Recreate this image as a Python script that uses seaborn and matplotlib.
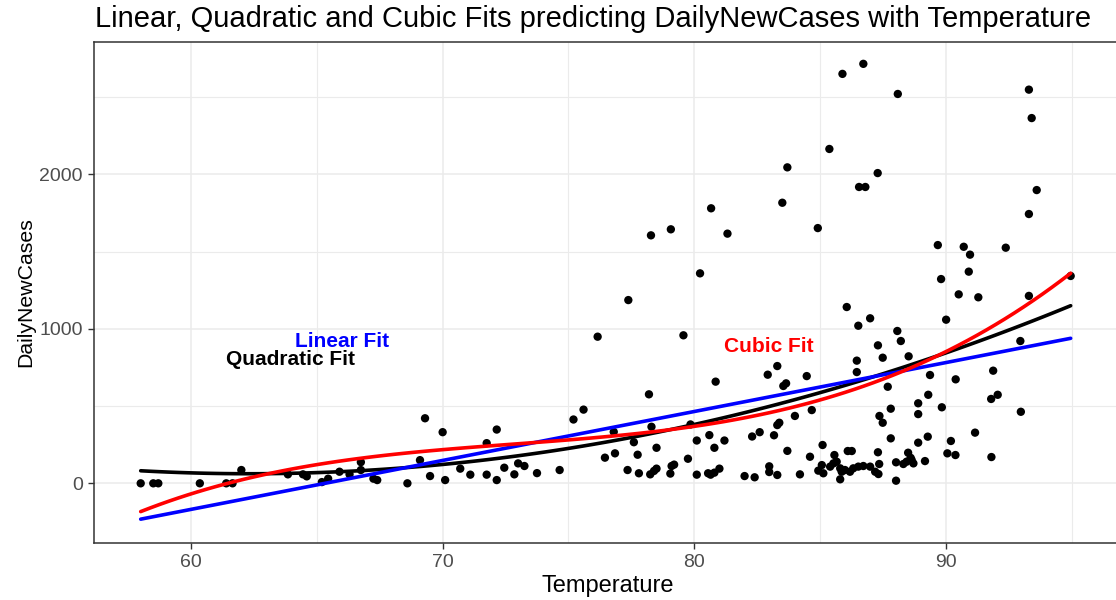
import numpy as np
import pandas as pd
import matplotlib
matplotlib.use("Agg")
import matplotlib.pyplot as plt
import seaborn as sns

# Daily temperature (°F) and new case counts
temperature = [
    58.0, 58.5, 58.7, 60.35, 61.4, 61.65, 62.0, 63.85, 64.45, 64.6,
    65.2, 65.45, 65.9, 66.3, 66.75, 66.75, 67.25, 67.4, 68.6, 69.1,
    69.3, 69.5, 70.0, 70.1, 70.7, 71.1, 71.75, 71.75,
    72.15, 72.15, 72.45, 72.85, 73.0, 73.25, 73.75, 74.65, 75.2, 75.6,
    76.45, 76.85, 76.8, 77.35, 77.6, 77.75, 77.8, 78.2, 78.3, 78.25,
    78.4, 78.5, 78.5, 79.05, 79.1, 79.2, 79.75, 79.85, 80.1, 80.1,
    80.6, 80.55, 80.65, 80.8, 81.0, 80.8, 81.2, 80.85, 82.0, 82.4,
    82.3, 82.6, 82.98, 82.98, 83.3,
    83.65, 83.54, 83.38, 83.3, 83.17, 84.0, 84.67, 83.7, 84.6, 84.2,
    85.1, 85.07, 84.93, 85.13, 85.4, 85.53, 85.66, 85.8, 85.86, 85.8,
    85.99, 86.19, 86.32, 86.52, 86.72, 86.99, 87.19, 87.32, 85.57, 86.1,
    86.26, 87.3, 87.35,
    85.89, 85.37, 83.7, 80.67, 83.5, 78.28, 79.07, 81.32, 84.91, 80.23,
    77.38, 76.16, 79.57, 86.06, 86.52, 86.46, 86.46, 82.92, 83.3, 84.47,
    86.72, 88.09, 93.3, 93.41, 87.29, 86.55, 86.8, 93.61, 93.3, 89.68,
    90.71, 90.96, 92.38, 90.91, 89.81, 90.51, 91.29, 94.96, 93.3, 90.01,
    86.99, 88.07, 88.21, 87.3, 87.49, 88.52, 87.69, 89.37, 90.39, 91.88,
    92.96, 88.9, 88.9, 89.84, 87.81, 87.36, 87.49, 87.81, 88.9, 89.28,
    90.2, 91.16, 90.06, 90.38, 89.17, 88.02, 88.02, 88.31, 88.44, 88.5,
    88.64, 88.71, 88.6, 91.8, 92.06, 92.98, 91.81, 89.3,
]
daily_new_cases = [
    0, 0, 0, 0, 0, 0, 86, 58, 58, 45,
    8, 30, 75, 58, 137, 86, 30, 21, 0, 150,
    421, 47, 331, 21, 95, 56, 56, 260,
    348, 21, 101, 58, 129, 112, 66, 86, 413, 477,
    166, 194, 333, 86, 266, 185, 65, 576, 366, 58,
    80, 95, 230, 63, 112, 121, 159, 381, 277, 56,
    312, 65, 56, 69, 95, 230, 277, 658, 47, 39,
    303, 331, 110, 73, 54,
    647, 630, 392, 377, 311, 436, 474, 210, 172, 58,
    248, 118, 82, 65, 108, 129, 140, 97, 75, 26,
    86, 75, 97, 108, 112, 108, 75, 60, 183, 209,
    209, 201, 125,
    2650, 2164, 2045, 1780, 1816, 1605, 1644, 1616, 1652, 1359,
    1186, 949, 958, 1141, 1020, 794, 720, 703, 759, 694,
    2715, 2520, 2548, 2364, 2008, 1918, 1918, 1898, 1743, 1542,
    1531, 1480, 1525, 1370, 1322, 1223, 1204, 1342, 1213, 1059,
    1068, 986, 921, 893, 813, 822, 625, 701, 673, 729,
    921, 518, 448, 492, 483, 436, 392, 291, 263, 302,
    274, 328, 194, 183, 144, 136, 17, 125, 140, 198,
    151, 129, 165, 546, 573, 463, 170, 573,
]

fit_orders = [2, 1, 3]
fit_colors = ["black", "blue", "red"]
fit_labels = ["Quadratic Fit", "Linear Fit", "Cubic Fit"]
label_x = [63.95, 66.0, 82.96]
label_y = [803, 917, 884]

df = pd.DataFrame({"Temperature": temperature, "DailyNewCases": daily_new_cases})

sns.set_theme(style="white")
plt.rcParams["font.family"] = ["Liberation Sans", "DejaVu Sans"]

W, H = 1116, 600
fig = plt.figure(figsize=(W / 100, H / 100), dpi=100)
left, right, top, bottom = 93.9, 1122.0, 41.9, 542.8
ax = fig.add_axes([left / W, (H - bottom) / H, (right - left) / W, (bottom - top) / H])

ax.set_xlim(56.14, 97.0)
ax.set_ylim(-385, 2857)

# grid
ax.set_xticks([60, 70, 80, 90])
ax.set_xticks([65, 75, 85, 95], minor=True)
ax.set_yticks([0, 1000, 2000])
ax.set_yticks([500, 1500, 2500], minor=True)
ax.grid(True, which="major", color="#EBEBEB", lw=1.1, zorder=0)
ax.grid(True, which="minor", color="#EBEBEB", lw=0.8, zorder=0)
ax.set_axisbelow(True)

sns.scatterplot(data=df, x="Temperature", y="DailyNewCases", ax=ax, color="black",
                s=36, edgecolor="none", zorder=3)

for order, color in zip(fit_orders, fit_colors):
    sns.regplot(data=df, x="Temperature", y="DailyNewCases", ax=ax, order=order,
                scatter=False, ci=None, color=color, line_kws={"lw": 2.6, "zorder": 4})

for text, color, tx, ty in zip(fit_labels, fit_colors, label_x, label_y):
    ax.text(tx, ty, text, color=color, fontsize=15, fontweight="bold",
            ha="center", va="center", zorder=5)

for side in ["left", "bottom", "top", "right"]:
    ax.spines[side].set_color("#333333")
    ax.spines[side].set_linewidth(1.1)

ax.tick_params(axis="both", which="major", direction="out", length=4, width=1.0,
               color="#333333", labelcolor="#4D4D4D", labelsize=14, pad=4,
               bottom=True, left=True)
ax.tick_params(axis="both", which="minor", length=0)

ax.set_xlabel("Temperature", fontsize=17, color="black", labelpad=3)
ax.set_ylabel("DailyNewCases", fontsize=15.3, color="black", labelpad=3)

fig.text(95 / W, 1 - 27 / H, "Linear, Quadratic and Cubic Fits predicting DailyNewCases with Temperature",
         fontsize=21, color="black", ha="left", va="baseline")

fig.savefig("out.png", dpi=100)
